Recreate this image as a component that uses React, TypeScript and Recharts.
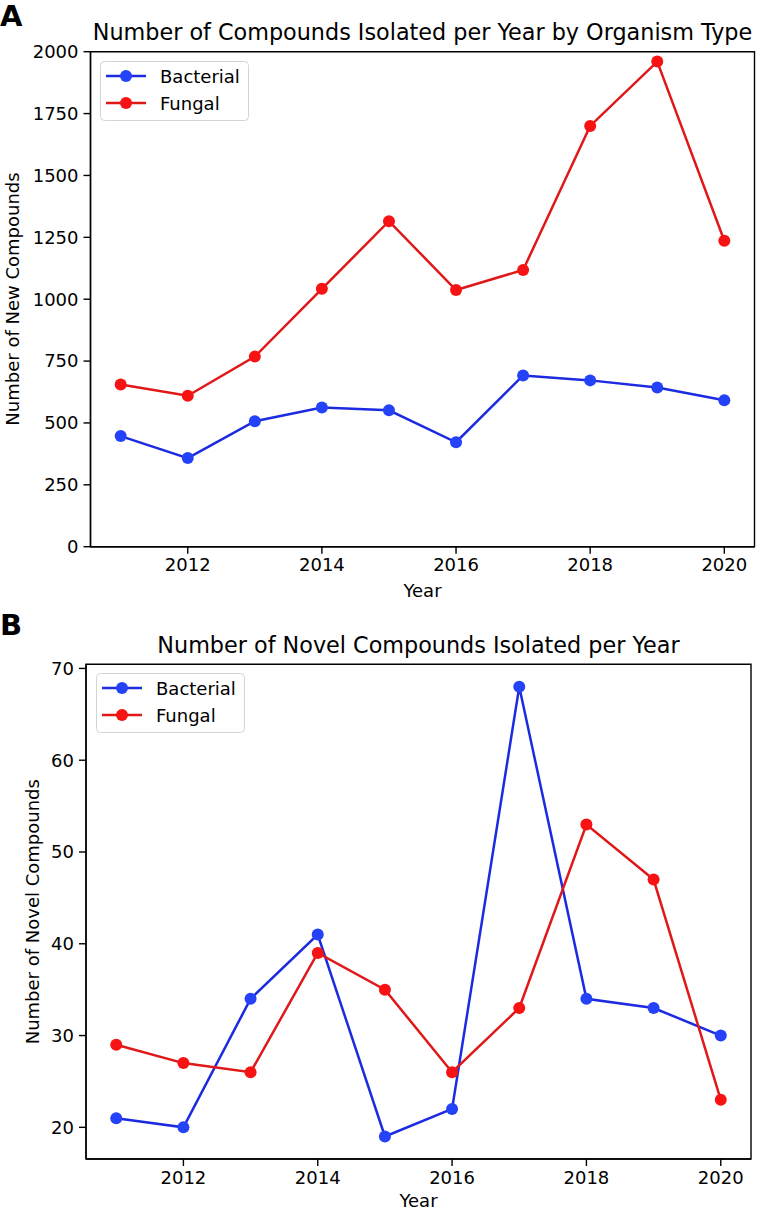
import { LineChart, Line, XAxis, YAxis, ReferenceArea, Legend } from 'recharts';

const years = [2011, 2012, 2013, 2014, 2015, 2016, 2017, 2018, 2019, 2020];
const newBacterial = [447, 358, 507, 562, 551, 422, 692, 672, 643, 592];
const newFungal = [655, 610, 768, 1042, 1315, 1037, 1118, 1700, 1960, 1236];
const novelBacterial = [21, 20, 34, 41, 19, 22, 68, 34, 33, 30];
const novelFungal = [29, 27, 26, 39, 35, 26, 33, 53, 47, 23];

const yearTicks = [2012, 2014, 2016, 2018, 2020];
const newTicks = [0, 250, 500, 750, 1000, 1250, 1500, 1750, 2000];
const novelTicks = [20, 30, 40, 50, 60, 70];

const FONT = 'DejaVu Sans, Verdana, sans-serif';
const BLUE_LINE = '#1c2be0';
const BLUE_DOT = '#2442f8';
const RED_LINE = '#e01818';
const RED_DOT = '#f71313';

const newData = years.map((y, i) => ({ year: y, bacterial: newBacterial[i], fungal: newFungal[i] }));
const novelData = years.map((y, i) => ({ year: y, bacterial: novelBacterial[i], fungal: novelFungal[i] }));

const tickStyle = { fill: '#000', fontSize: 18, fontFamily: FONT };
const axisLine = { stroke: '#000', strokeWidth: 1.4 };

function LegendBox() {
  const rows = [
    { name: 'Bacterial', line: BLUE_LINE, dot: BLUE_DOT },
    { name: 'Fungal', line: RED_LINE, dot: RED_DOT },
  ];
  return (
    <svg width={150} height={61} style={{ display: 'block' }}>
      <rect x={0.5} y={0.5} width={148} height={59} rx={4} fill="#fff" stroke="#d4d4d4" strokeWidth={1} />
      {rows.map((r, i) => (
        <g key={r.name}>
          <line x1={6} x2={46} y1={15 + i * 27} y2={15 + i * 27} stroke={r.line} strokeWidth={2.5} />
          <circle cx={26} cy={15 + i * 27} r={6} fill={r.dot} />
          <text x={60} y={21.5 + i * 27} fontSize={18} fontFamily={FONT} fill="#000">{r.name}</text>
        </g>
      ))}
    </svg>
  );
}

type PanelProps = {
  data: { year: number; bacterial: number; fungal: number }[];
  height: number;
  left: number;
  right: number;
  top: number;
  bottom: number;
  yDomain: [number, number];
  yTicks: number[];
  legendLeft: number;
  legendTop: number;
};

function Panel({ data, height, left, right, top, bottom, yDomain, yTicks, legendLeft, legendTop }: PanelProps) {
  const xDomain: [number, number] = [2010.55, 2020.45];
  return (
    <LineChart
      width={759}
      height={height}
      data={data}
      margin={{ top, right, left: 0, bottom: bottom - 30 }}
      style={{ fontFamily: FONT }}
    >
      <ReferenceArea
        x1={xDomain[0]}
        x2={xDomain[1]}
        y1={yDomain[0]}
        y2={yDomain[1]}
        fill="none"
        stroke="#000"
        strokeWidth={1.4}
        fillOpacity={0}
        ifOverflow="visible"
      />
      <XAxis
        dataKey="year"
        type="number"
        domain={xDomain}
        ticks={yearTicks}
        allowDataOverflow
        height={30}
        tick={tickStyle}
        tickSize={7}
        tickMargin={5}
        axisLine={axisLine}
        tickLine={axisLine}
      />
      <YAxis
        type="number"
        domain={yDomain}
        ticks={yTicks}
        allowDataOverflow
        width={left}
        tick={tickStyle}
        tickSize={7}
        tickMargin={5}
        axisLine={axisLine}
        tickLine={axisLine}
        interval={0}
      />
      <Legend
        layout="horizontal"
        verticalAlign="middle"
        align="center"
        content={() => <LegendBox />}
        wrapperStyle={{ position: 'absolute', left: legendLeft, top: legendTop, width: 150, height: 61 }}
      />
      <Line
        dataKey="bacterial"
        name="Bacterial"
        stroke={BLUE_LINE}
        strokeWidth={2.5}
        dot={{ r: 6, fill: BLUE_DOT, stroke: BLUE_DOT, strokeWidth: 0 }}
        isAnimationActive={false}
      />
      <Line
        dataKey="fungal"
        name="Fungal"
        stroke={RED_LINE}
        strokeWidth={2.5}
        dot={{ r: 6, fill: RED_DOT, stroke: RED_DOT, strokeWidth: 0 }}
        isAnimationActive={false}
      />
    </LineChart>
  );
}

export default function App() {
  return (
    <div style={{ position: 'absolute', left: 0, top: 0, width: 759, height: 1212, background: '#fff', overflow: 'hidden' }}>
      <div style={{ position: 'absolute', left: 0, top: 0 }}>
        <Panel
          data={newData}
          height={600}
          left={90.5}
          right={4.5}
          top={51.7}
          bottom={53.3}
          yDomain={[0, 2000]}
          yTicks={newTicks}
          legendLeft={100}
          legendTop={61}
        />
      </div>
      <div style={{ position: 'absolute', left: 0, top: 600 }}>
        <Panel
          data={novelData}
          height={612}
          left={86}
          right={8}
          top={64.3}
          bottom={53}
          yDomain={[16.55, 70.45]}
          yTicks={novelTicks}
          legendLeft={96}
          legendTop={72.7}
        />
      </div>
      <svg width={759} height={1212} style={{ position: 'absolute', left: 0, top: 0, pointerEvents: 'none' }} fontFamily={FONT}>
        <text x={0} y={26} fontSize={29} fontWeight="bold" fill="#000">A</text>
        <text x={422.5} y={40} fontSize={22.3} textAnchor="middle" fill="#000">
          Number of Compounds Isolated per Year by Organism Type
        </text>
        <text x={422.5} y={597} fontSize={18} textAnchor="middle" fill="#000">Year</text>
        <text transform="translate(19,299) rotate(-90)" fontSize={18} textAnchor="middle" fill="#000">
          Number of New Compounds
        </text>
        <text x={0} y={635} fontSize={29} fontWeight="bold" fill="#000">B</text>
        <text x={418.5} y={652.5} fontSize={22.3} textAnchor="middle" fill="#000">
          Number of Novel Compounds Isolated per Year
        </text>
        <text x={418.5} y={1207} fontSize={18} textAnchor="middle" fill="#000">Year</text>
        <text transform="translate(38.5,911.7) rotate(-90)" fontSize={18} textAnchor="middle" fill="#000">
          Number of Novel Compounds
        </text>
      </svg>
    </div>
  );
}
